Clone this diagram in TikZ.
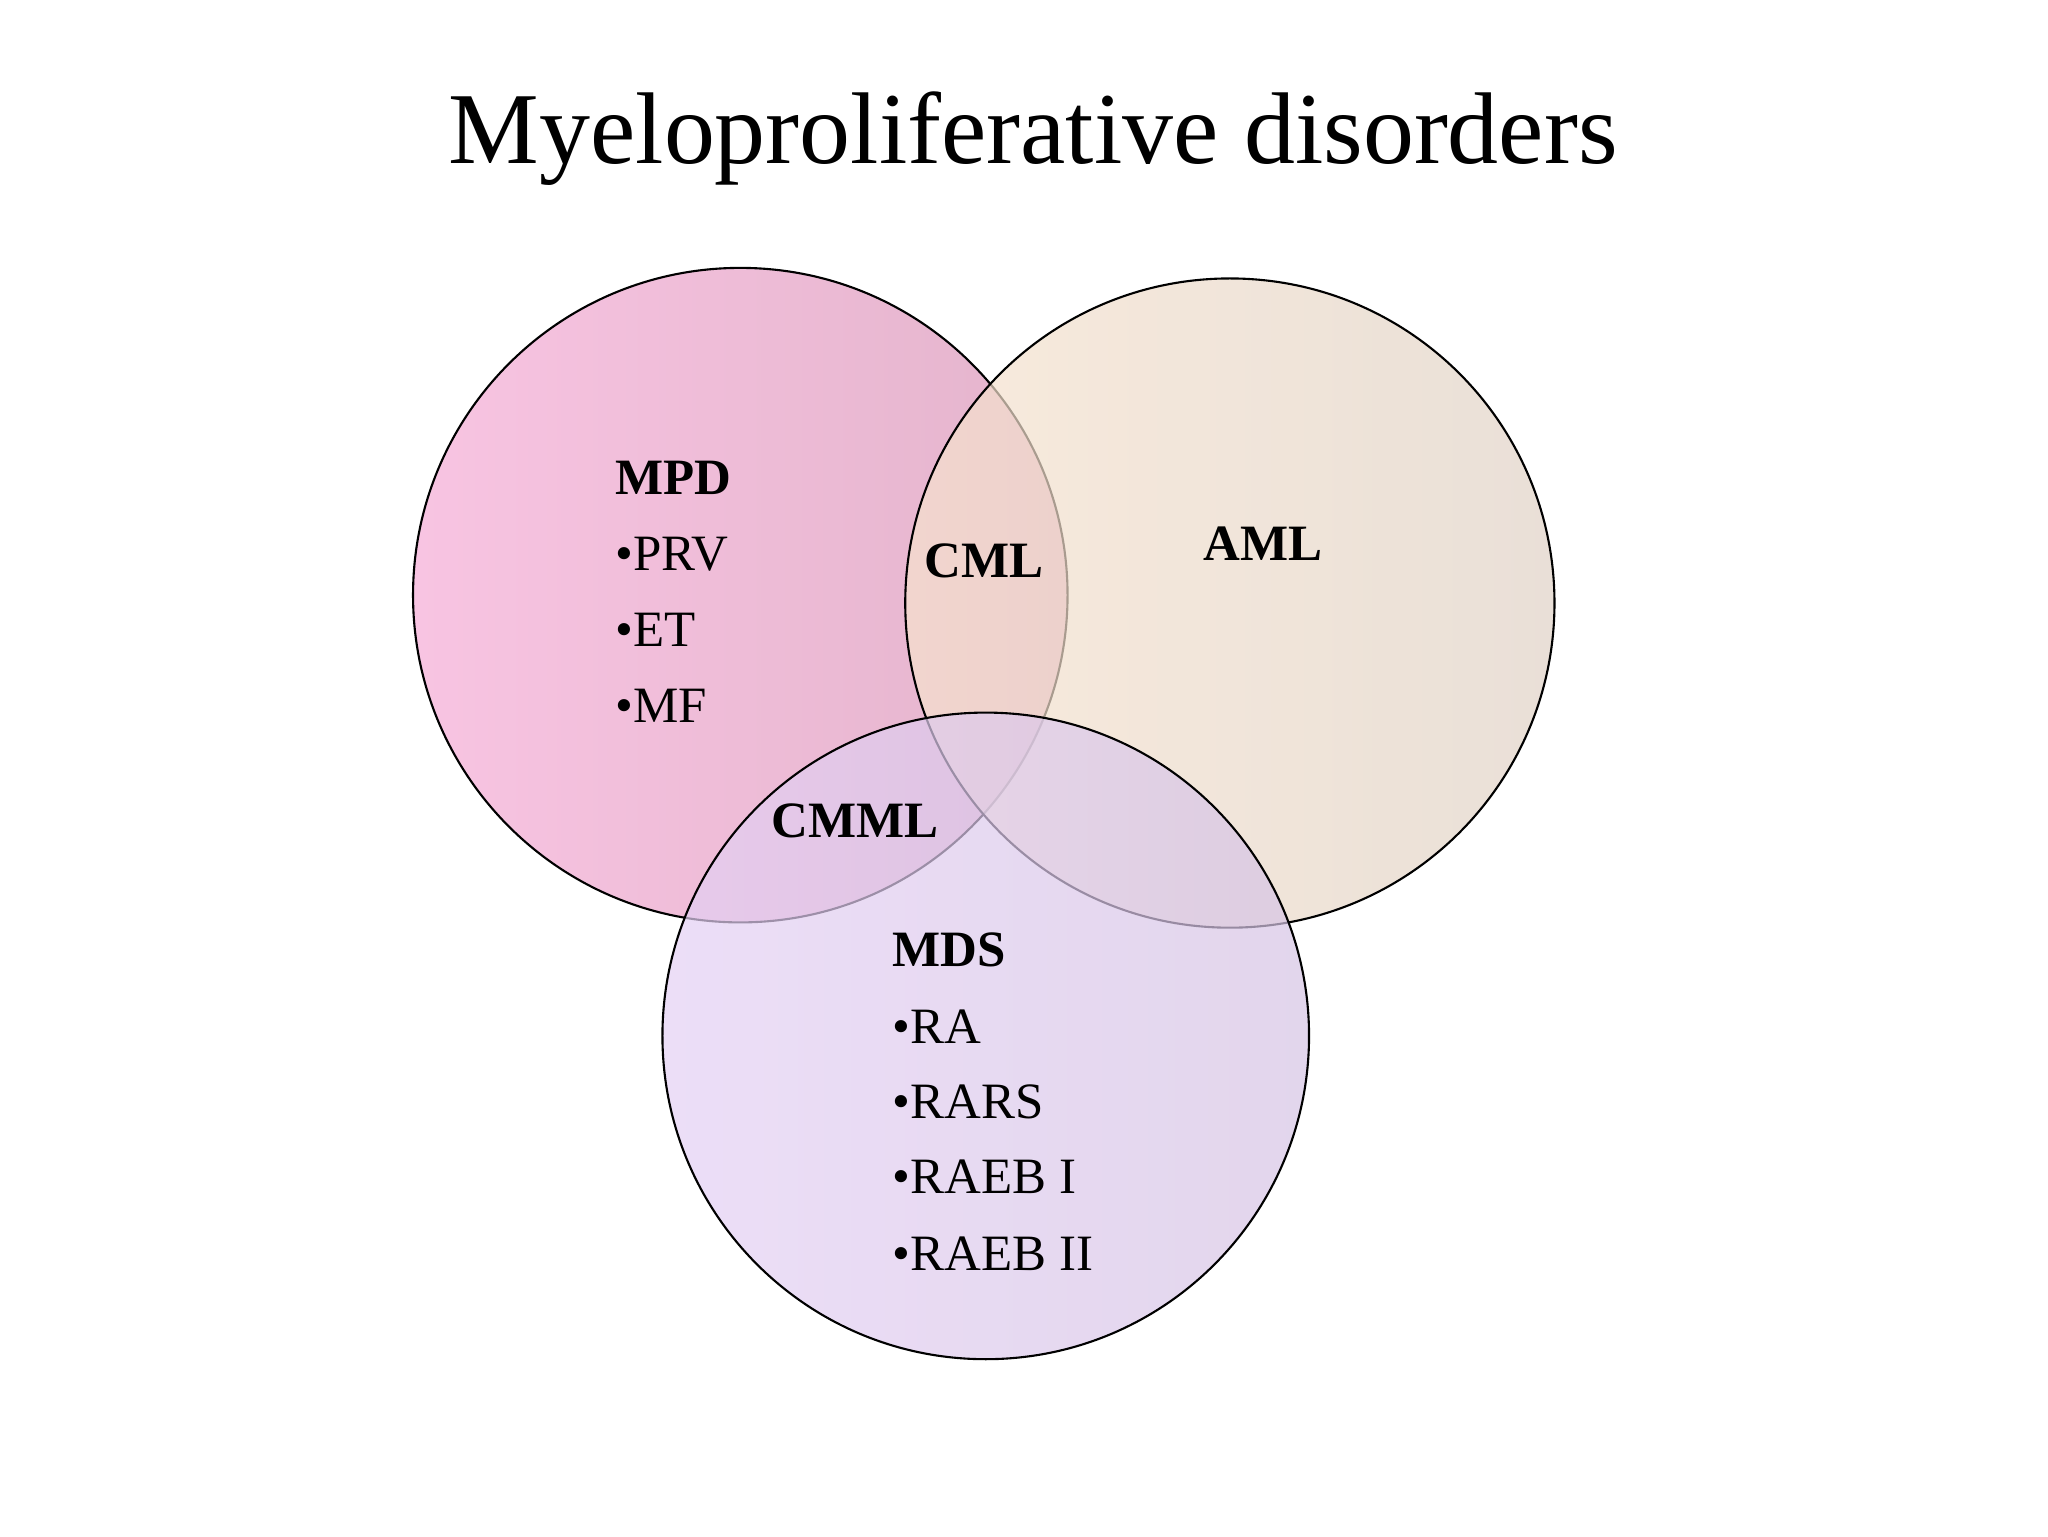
\documentclass[tikz,border=0pt]{standalone}
\usepackage{fontspec}
\setmainfont{Liberation Serif}
\definecolor{mpdL}{HTML}{F8C4E2}
\definecolor{mpdR}{HTML}{E4B4CC}
\definecolor{amlL}{HTML}{F6E2CE}
\definecolor{amlR}{HTML}{E0D2C6}
\definecolor{mdsL}{HTML}{E4D0F4}
\definecolor{mdsR}{HTML}{D6C4E4}
\begin{document}
\begin{tikzpicture}[x=0.013196cm,y=-0.013196cm,
  venn/.style={circle,draw=black,line width=0.6pt,inner sep=0pt},
  lab/.style={font=\fontsize{14.5}{16}\selectfont\bfseries,inner sep=0pt},
  item/.style={font=\fontsize{14.5}{16}\selectfont,inner sep=0pt,anchor=west}]
\useasboundingbox (0,0) rectangle (1552,1164);
\node[font=\fontsize{29}{34}\selectfont] (title) at (783,105) {Myeloproliferative disorders};
\node[venn,minimum size=496*0.013196cm,left color=mpdL,right color=mpdR] (mpd) at (561,451) {};
\node[venn,minimum size=492*0.013196cm,left color=amlL,right color=amlR,fill opacity=0.7] (aml) at (932,457) {};
\node[venn,minimum size=490*0.013196cm,left color=mdsL,right color=mdsR,fill opacity=0.7] (mds) at (747,785) {};
\node[lab,anchor=west] (l1) at (466,362) {MPD};
\node[item] (p1) at (466,420) {•PRV};
\node[item] (p2) at (466,477) {•ET};
\node[item] (p3) at (466,535) {•MF};
\node[lab] (cml) at (746,425) {CML};
\node[lab] (amll) at (957,412) {AML};
\node[lab] (cmml) at (648,622) {CMML};
\node[lab,anchor=west] (l3) at (676,720) {MDS};
\node[item] (m1) at (676,778) {•RA};
\node[item] (m2) at (676,835) {•RARS};
\node[item] (m3) at (676,892) {•RAEB I};
\node[item] (m4) at (676,950) {•RAEB II};
\end{tikzpicture}
\end{document}
